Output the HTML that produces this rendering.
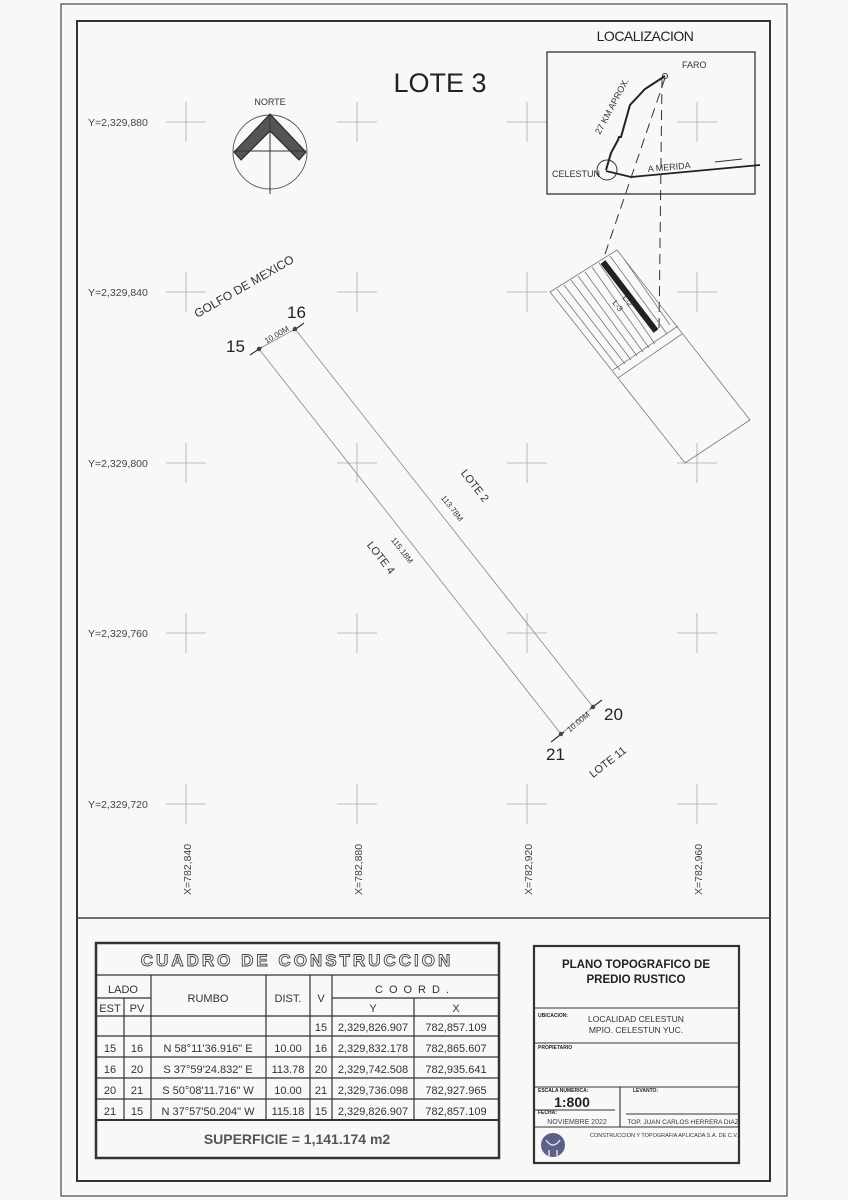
<!DOCTYPE html>
<html><head><meta charset="utf-8"><style>
html,body{margin:0;padding:0;background:#f7f8f7;}
svg{display:block;font-family:"Liberation Sans",sans-serif;}
</style></head><body>
<svg width="848" height="1200" viewBox="0 0 848 1200" xmlns="http://www.w3.org/2000/svg">
<rect x="0" y="0" width="848" height="1200" fill="#f7f8f7"/>
<rect x="61" y="4" width="726" height="1192" fill="none" stroke="#555" stroke-width="1.3"/>
<rect x="77" y="21" width="693" height="1160" fill="none" stroke="#333" stroke-width="2"/>
<line x1="77" y1="918" x2="770" y2="918" stroke="#444" stroke-width="1.5"/>

<!-- grid crosses -->
<g stroke="#aaa" stroke-width="0.8">
<g id="row">
<path d="M166 122h40M186 102v40M337 122h40M357 102v40M507 122h40M527 102v40M677 122h40M697 102v40"/>
</g>
<path d="M166 292h40M186 272v40M337 292h40M357 272v40M507 292h40M527 272v40M677 292h40M697 272v40"/>
<path d="M166 463h40M186 443v40M337 463h40M357 443v40M507 463h40M527 443v40M677 463h40M697 443v40"/>
<path d="M166 633h40M186 613v40M337 633h40M357 613v40M507 633h40M527 613v40M677 633h40M697 633v0M697 613v40"/>
<path d="M166 804h40M186 784v40M337 804h40M357 784v40M507 804h40M527 784v40M677 804h40M697 784v40"/>
</g>
<g font-size="10.5" fill="#444">
<text x="88" y="126">Y=2,329,880</text>
<text x="88" y="296">Y=2,329,840</text>
<text x="88" y="467">Y=2,329,800</text>
<text x="88" y="637">Y=2,329,760</text>
<text x="88" y="808">Y=2,329,720</text>
<text transform="translate(191,895) rotate(-90)">X=782,840</text>
<text transform="translate(362,895) rotate(-90)">X=782,880</text>
<text transform="translate(532,895) rotate(-90)">X=782,920</text>
<text transform="translate(702,895) rotate(-90)">X=782,960</text>
</g>

<text x="440" y="92" font-size="27" text-anchor="middle" fill="#222">LOTE 3</text>

<!-- north arrow -->
<text x="270" y="105" font-size="9" text-anchor="middle" fill="#333">NORTE</text>
<circle cx="270" cy="152" r="37" fill="none" stroke="#555" stroke-width="0.9"/>
<path d="M270 114 L306 152 L299 160 L270 131 L241 160 L234 152 Z" fill="#555" stroke="#222" stroke-width="1"/>
<line x1="270" y1="114" x2="270" y2="194" stroke="#333" stroke-width="1"/>
<line x1="234" y1="151" x2="306" y2="151" stroke="#333" stroke-width="1"/>

<text transform="translate(246,290) rotate(-30)" font-size="12" text-anchor="middle" fill="#333">GOLFO DE MEXICO</text>

<!-- lot -->
<g stroke="#888" stroke-width="0.8" fill="none">
<path d="M259 349 L295 329 L593 707 L561 734 Z"/>
</g>
<g stroke="#333" stroke-width="1.2">
<line x1="250" y1="355" x2="262" y2="347"/>
<line x1="293" y1="331" x2="304" y2="323"/>
<line x1="590" y1="709" x2="602" y2="700"/>
<line x1="551" y1="742" x2="564" y2="732"/>
</g>
<g fill="#444"><circle cx="259" cy="349" r="2.2"/><circle cx="295" cy="329" r="2.2"/><circle cx="593" cy="707" r="2.2"/><circle cx="561" cy="734" r="2.2"/></g>
<g font-size="17" fill="#222">
<text x="226" y="352">15</text><text x="287" y="318">16</text>
<text x="604" y="720">20</text><text x="546" y="760">21</text>
</g>
<text transform="translate(278,337) rotate(-30)" font-size="8" text-anchor="middle" fill="#333">10.00M</text>
<text transform="translate(580,724) rotate(-40)" font-size="8" text-anchor="middle" fill="#333">10.00M</text>
<text transform="translate(472,488) rotate(52)" font-size="11" text-anchor="middle" fill="#333">LOTE 2</text>
<text transform="translate(450,510) rotate(52)" font-size="8" text-anchor="middle" fill="#333">113.78M</text>
<text transform="translate(378,560) rotate(52)" font-size="11" text-anchor="middle" fill="#333">LOTE 4</text>
<text transform="translate(400,552) rotate(52)" font-size="8" text-anchor="middle" fill="#333">115.18M</text>
<text transform="translate(610,765) rotate(-38)" font-size="11" text-anchor="middle" fill="#333">LOTE 11</text>

<!-- localization -->
<text x="645" y="41" font-size="14" text-anchor="middle" fill="#222" transform="scale(1,1)" style="letter-spacing:-0.5px">LOCALIZACION</text>
<rect x="547" y="52" width="208" height="142" fill="none" stroke="#333" stroke-width="1.3"/>
<text x="682" y="68" font-size="9" fill="#333">FARO</text>
<circle cx="665" cy="76" r="2.5" fill="none" stroke="#333"/>
<path d="M606 170 L611 153 L618 140 L619 137 L621 137 L630 105 L645 89 L665 76" fill="none" stroke="#222" stroke-width="2"/>
<circle cx="607" cy="170" r="10" fill="none" stroke="#333" stroke-width="1"/>
<text x="552" y="177" font-size="9" fill="#333">CELESTUN</text>
<path d="M606 171 L631 177 L760 165" fill="none" stroke="#222" stroke-width="1.8"/>
<line x1="715" y1="162" x2="742" y2="159" stroke="#333" stroke-width="1"/>
<text transform="translate(648,172) rotate(-5)" font-size="9" fill="#333">A MERIDA</text>
<text transform="translate(600,135) rotate(-62)" font-size="9" fill="#333">27 KM APROX.</text>
<g stroke="#333" stroke-width="1" stroke-dasharray="10,6" fill="none">
<line x1="665" y1="78" x2="603" y2="260"/>
<line x1="662" y1="78" x2="659" y2="330"/>
</g>
<!-- mini lot -->
<g stroke="#777" stroke-width="0.8" fill="none">
<path d="M550 292 L617 250 L750 420 L685 463 Z"/>
<path d="M613 370 L678 326"/>
<path d="M618 378 L682 334"/>
<path d="M557 289 L620 370 M564 285 L625 364 M571 280 L631 360 M578 276 L637 356 M585 272 L643 352 M592 267 L649 348 M599 263 L655 344 M610 256 L667 334 M624 259 L670 325"/>
</g>
<line x1="603" y1="262" x2="656" y2="331" stroke="#222" stroke-width="6"/>
<text transform="translate(622,298) rotate(52)" font-size="8" fill="#333">L-2</text>
<text transform="translate(612,303) rotate(52)" font-size="8" fill="#333">L-3</text>

<!-- table -->
<g stroke="#333" fill="none">
<rect x="96" y="943" width="403" height="215" stroke-width="2.5"/>
<g stroke-width="1.2">
<line x1="96" y1="975" x2="499" y2="975"/>
<line x1="96" y1="1016" x2="499" y2="1016"/>
<line x1="96" y1="998" x2="151" y2="998"/>
<line x1="332" y1="998" x2="499" y2="998"/>
<line x1="96" y1="1036" x2="499" y2="1036"/>
<line x1="96" y1="1057" x2="499" y2="1057"/>
<line x1="96" y1="1078" x2="499" y2="1078"/>
<line x1="96" y1="1099" x2="499" y2="1099"/>
<line x1="96" y1="1120" x2="499" y2="1120" stroke-width="2"/>
<line x1="124" y1="998" x2="124" y2="1120"/>
<line x1="151" y1="975" x2="151" y2="1120"/>
<line x1="266" y1="975" x2="266" y2="1120"/>
<line x1="310" y1="975" x2="310" y2="1120"/>
<line x1="332" y1="975" x2="332" y2="1120"/>
<line x1="414" y1="998" x2="414" y2="1120"/>
</g>
</g>
<text x="297" y="966" font-size="17" text-anchor="middle" fill="#f7f8f7" stroke="#444" stroke-width="0.9" style="letter-spacing:3px" font-weight="bold">CUADRO DE CONSTRUCCION</text>
<g font-size="11" fill="#333" text-anchor="middle">
<text x="123" y="993">LADO</text>
<text x="110" y="1012">EST</text><text x="137" y="1012">PV</text>
<text x="208" y="1002">RUMBO</text>
<text x="288" y="1002">DIST.</text>
<text x="321" y="1002">V</text>
<text x="415" y="993" style="letter-spacing:6px">COORD.</text>
<text x="373" y="1012">Y</text><text x="456" y="1012">X</text>
<text x="321" y="1031">15</text><text x="373" y="1031">2,329,826.907</text><text x="456" y="1031">782,857.109</text>
<text x="110" y="1052">15</text><text x="137" y="1052">16</text><text x="208" y="1052">N  58°11'36.916"  E</text><text x="288" y="1052">10.00</text><text x="321" y="1052">16</text><text x="373" y="1052">2,329,832.178</text><text x="456" y="1052">782,865.607</text>
<text x="110" y="1073">16</text><text x="137" y="1073">20</text><text x="208" y="1073">S  37°59'24.832"  E</text><text x="288" y="1073">113.78</text><text x="321" y="1073">20</text><text x="373" y="1073">2,329,742.508</text><text x="456" y="1073">782,935.641</text>
<text x="110" y="1094">20</text><text x="137" y="1094">21</text><text x="208" y="1094">S  50°08'11.716"  W</text><text x="288" y="1094">10.00</text><text x="321" y="1094">21</text><text x="373" y="1094">2,329,736.098</text><text x="456" y="1094">782,927.965</text>
<text x="110" y="1115">21</text><text x="137" y="1115">15</text><text x="208" y="1115">N  37°57'50.204"  W</text><text x="288" y="1115">115.18</text><text x="321" y="1115">15</text><text x="373" y="1115">2,329,826.907</text><text x="456" y="1115">782,857.109</text>
<text x="297" y="1144" font-size="14" font-weight="bold" fill="#555">SUPERFICIE = 1,141.174 m2</text>
</g>

<!-- title block -->
<g stroke="#333" fill="none">
<rect x="534" y="946" width="205" height="217" stroke-width="2.2"/>
<g stroke-width="1.1">
<line x1="534" y1="1008" x2="739" y2="1008"/>
<line x1="534" y1="1043" x2="739" y2="1043"/>
<line x1="534" y1="1087" x2="739" y2="1087"/>
<line x1="534" y1="1127" x2="739" y2="1127"/>
<line x1="620" y1="1087" x2="620" y2="1127"/>
<line x1="534" y1="1110" x2="615" y2="1110"/>
<line x1="626" y1="1114" x2="739" y2="1114"/>
</g>
</g>
<g fill="#222" font-weight="bold" font-size="11.5" text-anchor="middle">
<text x="636" y="968">PLANO TOPOGRAFICO DE</text>
<text x="636" y="983">PREDIO RUSTICO</text>
</g>
<g font-size="5" fill="#222" font-weight="bold">
<text x="538" y="1017">UBICACION:</text>
<text x="538" y="1049">PROPIETARIO</text>
<text x="538" y="1092">ESCALA NUMERICA:</text>
<text x="633" y="1092">LEVANTO:</text>
<text x="538" y="1114">FECHA:</text>
</g>
<g font-size="8.5" fill="#333" text-anchor="middle">
<text x="636" y="1022">LOCALIDAD CELESTUN</text>
<text x="636" y="1033">MPIO. CELESTUN YUC.</text>
</g>
<text x="572" y="1107" font-size="14" font-weight="bold" text-anchor="middle" fill="#222">1:800</text>
<text x="577" y="1124" font-size="7" text-anchor="middle" fill="#444">NOVIEMBRE 2022</text>
<text x="683" y="1124" font-size="6.5" text-anchor="middle" fill="#333">TOP. JUAN CARLOS HERRERA DIAZ</text>
<text x="664" y="1137" font-size="5.5" text-anchor="middle" fill="#333">CONSTRUCCION Y TOPOGRAFIA APLICADA S.A. DE C.V.</text>
<circle cx="553" cy="1145" r="12" fill="#5c5f8a"/>
<path d="M546 1140 q7 10 14 0 M549 1150 v6 M557 1150 v6" stroke="#ddd" stroke-width="1.5" fill="none"/>
</svg>
</body></html>
